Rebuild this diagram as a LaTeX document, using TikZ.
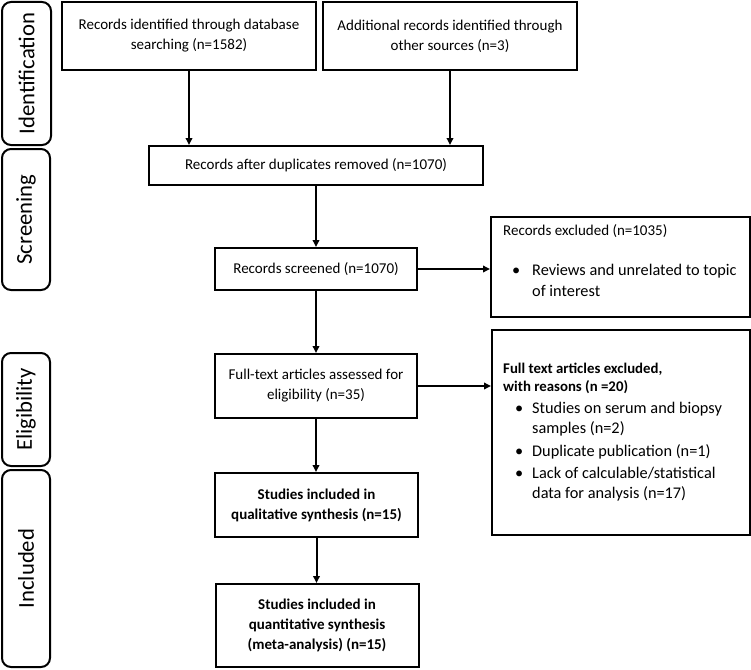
\documentclass[tikz,border=0pt]{standalone}
\usepackage{fontspec}
\setmainfont{Carlito}
\usetikzlibrary{arrows.meta}
\begin{document}
\begin{tikzpicture}[x=1pt,y=-1pt,
  box/.style={draw, line width=2pt, align=center, inner sep=2pt, font=\fontsize{15}{20}\selectfont},
  side/.style={draw, line width=2pt, rounded corners=9pt, inner sep=0pt, font=\fontsize{22.7}{26}\selectfont},
  arr/.style={line width=2pt, -{Triangle[length=7pt,width=6.5pt]}},
  txt/.style={inner sep=0pt, anchor=west, text height=10.5pt, text depth=3.5pt, font=\fontsize{15}{20}\selectfont},
  ltxt/.style={txt, font=\fontsize{16.3}{20}\selectfont},
  btxt/.style={txt, font=\fontsize{14.8}{20}\selectfont\bfseries}
]
\useasboundingbox[fill=white] (0,0) rectangle (751,669);

% side labels
\node[side, rotate=90, minimum width=143pt, minimum height=49pt] (sid) at (26.5,73.5) {Identification};
\node[side, rotate=90, minimum width=141pt, minimum height=48pt] (ssc) at (26,219.5) {Screening};
\node[side, rotate=90, minimum width=113pt, minimum height=48pt] (sel) at (26,409.5) {Eligibility};
\node[side, rotate=90, minimum width=197pt, minimum height=48pt] (sin) at (26,568.5) {Included};

% boxes
\node[box, minimum width=254pt, minimum height=68pt] (b1) at (189,36) {Records identified through database\\searching (n=1582)};
\node[box, minimum width=254pt, minimum height=68pt] (b2) at (450,36) {Additional records identified through\\other sources (n=3)};
\node[box, minimum width=334pt, minimum height=39pt] (dup) at (316,165.5) {Records after duplicates removed (n=1070)};
\node[box, minimum width=202pt, minimum height=42pt] (scr) at (316,269) {Records screened (n=1070)};
\node[box, minimum width=259pt, minimum height=100pt] (ex1) at (620.5,267) {};
\node[box, minimum width=202pt, minimum height=64pt] (ft) at (316,386) {Full-text articles assessed for\\eligibility (n=35)};
\node[box, minimum width=258pt, minimum height=205pt] (ex2) at (621,432.5) {};
\node[box, minimum width=203pt, minimum height=64pt, font=\fontsize{15}{20}\selectfont\bfseries] (qual) at (316.5,505) {Studies included in\\qualitative synthesis (n=15)};
\node[box, minimum width=203pt, minimum height=83pt, font=\fontsize{15}{20}\selectfont\bfseries] (quant) at (317,625.5) {Studies included in\\quantitative synthesis\\(meta-analysis) (n=15)};

% texts of exclusion boxes
\node[txt] (e1h) at (503,232) {Records excluded (n=1035)};
\node[ltxt] (e1b) at (512,272) {•};
\node[ltxt] (e1a) at (532,272) {Reviews and unrelated to topic};
\node[ltxt] (e1c) at (532,293) {of interest};

\node[btxt] (e2h) at (503,370) {Full text articles excluded,};
\node[btxt] (e2i) at (503,388) {with reasons (n =20)};
\node[ltxt] (e2b1) at (515,410) {•};
\node[ltxt] (e2a) at (532,410) {Studies on serum and biopsy};
\node[ltxt] (e2c) at (532,430) {samples (n=2)};
\node[ltxt] (e2b2) at (515,453) {•};
\node[ltxt] (e2d) at (532,453) {Duplicate publication (n=1)};
\node[ltxt] (e2b3) at (515,475) {•};
\node[ltxt] (e2e) at (532,475) {Lack of calculable/statistical};
\node[ltxt] (e2f) at (532,495) {data for analysis (n=17)};

% connectors
\draw[arr] (b1.south) -- (b1.south |- dup.north);
\draw[arr] (b2.south) -- (b2.south |- dup.north);
\draw[arr] (dup.south) -- (scr.north);
\draw[arr] (scr.east) -- (scr.east -| ex1.west);
\draw[arr] (scr.south) -- (ft.north);
\draw[arr] (ft.east) -- (ft.east -| ex2.west);
\draw[arr] (ft.south) -- (ft.south |- qual.north);
\draw[arr] (qual.south) -- (qual.south |- quant.north);
\end{tikzpicture}
\end{document}
